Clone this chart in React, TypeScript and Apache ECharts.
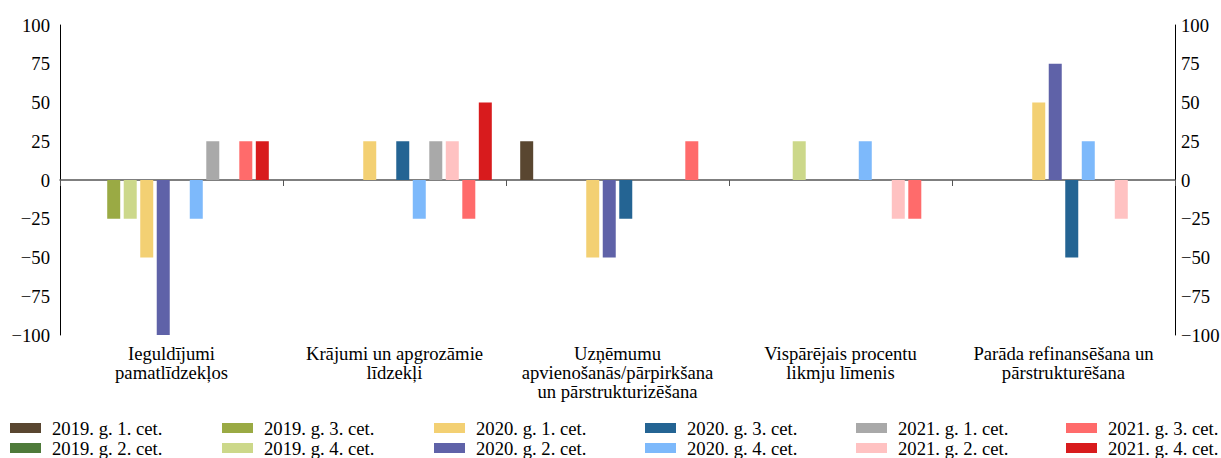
import React, { useEffect, useRef } from "react";
import * as echarts from "echarts";

const categories = [
  "Ieguldījumi\npamatlīdzekļos",
  "Krājumi un apgrozāmie\nlīdzekļi",
  "Uzņēmumu\napvienošanās/pārpirkšana\nun pārstrukturizēšana",
  "Vispārējais procentu\nlikmju līmenis",
  "Parāda refinansēšana un\npārstrukturēšana",
];

const seriesNames = [
  "2019. g. 1. cet.",
  "2019. g. 2. cet.",
  "2019. g. 3. cet.",
  "2019. g. 4. cet.",
  "2020. g. 1. cet.",
  "2020. g. 2. cet.",
  "2020. g. 3. cet.",
  "2020. g. 4. cet.",
  "2021. g. 1. cet.",
  "2021. g. 2. cet.",
  "2021. g. 3. cet.",
  "2021. g. 4. cet.",
];

const colors = [
  "#594630",
  "#4E7A3A",
  "#9AAA44",
  "#CCD88A",
  "#F3D073",
  "#5F62A8",
  "#246493",
  "#7DB9FB",
  "#A9A9A9",
  "#FFC2C2",
  "#FF6B6B",
  "#D81B1D",
];

// values per series, across the 5 categories
const s2019q1 = [0, 0, 25, 0, 0];
const s2019q2 = [0, 0, 0, 0, 0];
const s2019q3 = [-25, 0, 0, 0, 0];
const s2019q4 = [-25, 0, 0, 25, 0];
const s2020q1 = [-50, 25, -50, 0, 50];
const s2020q2 = [-100, 0, -50, 0, 75];
const s2020q3 = [0, 25, -25, 0, -50];
const s2020q4 = [-25, -25, 0, 25, 25];
const s2021q1 = [25, 25, 0, 0, 0];
const s2021q2 = [0, 25, 0, -25, -25];
const s2021q3 = [25, -25, 25, -25, 0];
const s2021q4 = [25, 50, 0, 0, 0];

const seriesValues = [
  s2019q1, s2019q2, s2019q3, s2019q4,
  s2020q1, s2020q2, s2020q3, s2020q4,
  s2021q1, s2021q2, s2021q3, s2021q4,
];

const yTicks = { min: -100, max: 100, interval: 25 };

const FONT = "Liberation Serif";
const FS = 18.67;

export default function App() {
  const ref = useRef<HTMLDivElement>(null);
  useEffect(() => {
    document.body.style.margin = "0";
    const chart = echarts.init(ref.current!, null, { renderer: "svg" });
    const legendLefts = [10, 222, 434, 645, 856, 1066];
    const legendTops = [418, 438];
    const legends = seriesNames.map((name, i) => ({
      show: true,
      left: legendLefts[Math.floor(i / 2)],
      top: legendTops[i % 2],
      padding: 0,
      itemWidth: 31,
      itemHeight: 10,
      itemGap: 0,
      icon: "rect",
      selectedMode: false,
      data: [name],
      textStyle: {
        fontFamily: FONT,
        fontSize: FS,
        lineHeight: 20,
        color: "#000",
        padding: [0, 0, 0, 6],
      },
    }));
    const numFmt = (v: number) => String(v).replace("-", "\u2212");
    chart.setOption({
      animation: false,
      color: colors,
      textStyle: { fontFamily: FONT, fontSize: FS },
      legend: legends,
      grid: {
        left: 60,
        right: 46,
        top: 25,
        bottom: 123,
        containLabel: false,
        outerBoundsMode: "none",
      },
      xAxis: [
        {
          type: "category",
          data: categories,
          axisLine: { onZero: true, lineStyle: { color: "#555", width: 1.5 } },
          axisTick: { show: true, length: 6, inside: false, lineStyle: { color: "#555" } },
          axisLabel: { show: false },
        },
        {
          type: "category",
          data: categories,
          position: "bottom",
          axisLine: { show: false, onZero: false },
          axisTick: { show: false },
          axisLabel: {
            show: true,
            fontFamily: FONT,
            fontSize: FS,
            color: "#000",
            lineHeight: 19,
            margin: 9,
            interval: 0,
          },
        },
      ],
      yAxis: [
        {
          type: "value",
          ...yTicks,
          position: "left",
          axisLine: { show: true, lineStyle: { color: "#000" } },
          axisTick: { show: false },
          splitLine: { show: false },
          axisLabel: { formatter: numFmt, fontFamily: FONT, fontSize: FS, color: "#000", margin: 10 },
        },
        {
          type: "value",
          ...yTicks,
          position: "right",
          axisLine: { show: true, lineStyle: { color: "#000" } },
          axisTick: { show: false },
          splitLine: { show: false },
          axisLabel: { formatter: numFmt, fontFamily: FONT, fontSize: FS, color: "#000", margin: 6 },
        },
      ],
      series: seriesNames.map((name, i) => ({
        name,
        type: "bar",
        xAxisIndex: 0,
        yAxisIndex: 0,
        barWidth: 13,
        barGap: "27%",
        data: seriesValues[i].map((v) => (v === 0 ? null : v)),
        itemStyle: { color: colors[i] },
      })),
    });
    return () => chart.dispose();
  }, []);
  return <div ref={ref} style={{ width: 1221, height: 458 }} />;
}
